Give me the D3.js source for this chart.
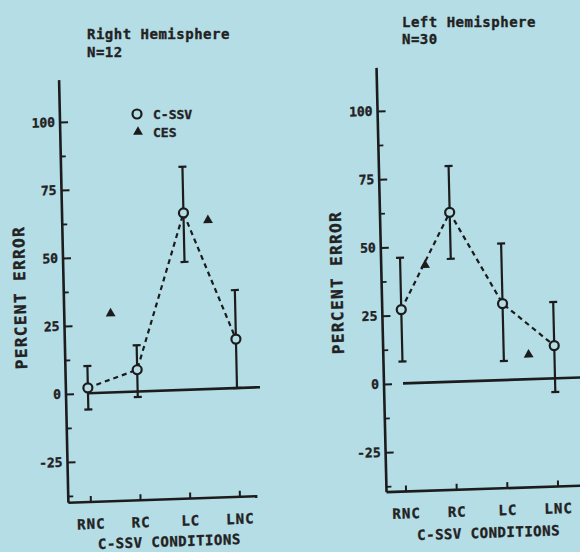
<!DOCTYPE html>
<html><head><meta charset="utf-8">
<script src="https://cdn.jsdelivr.net/npm/d3@7"></script>
<style>
html,body{margin:0;padding:0;background:#b5dde6;}
svg{display:block;}
text{font-family:"DejaVu Sans Mono",monospace;font-weight:bold;fill:#222;stroke:#222;stroke-width:0.35px;}
</style></head><body>
<svg id="chart" width="580" height="552"></svg>
<script>
// ---- data ----
const categories = ["RNC", "RC", "LC", "LNC"];
const yTickValues = [-25, 0, 25, 50, 75, 100];
const yTickLabels = ["-25", "0", "25", "50", "75", "100"];
const yMinorTicks = [-37.5, -12.5, 12.5, 37.5, 62.5, 87.5];
const seriesNames = ["C-SSV", "CES"];

const rightHemCSSV     = [2, 8, 65, 18];
const rightHemCSSVLow  = [-6, -2, 47, 0];
const rightHemCSSVHigh = [10, 17, 82, 36];
const rightHemCES      = [29, null, 62, null];

const leftHemCSSV      = [27, 62, 28, 12];
const leftHemCSSVLow   = [8, 45, 7, -5];
const leftHemCSSVHigh  = [46, 79, 50, 28];
const leftHemCES       = [43, null, 9, null];

// ---- layout ----
const BG = "#b5dde6", INK = "#1c1c1c";
const svg = d3.select("#chart");
svg.append("rect").attr("width", 580).attr("height", 552).attr("fill", BG);

const panels = [
  { title: "Right Hemisphere", n: "N=12", tx: 87, ty: 39, ny: 57,
    cssv: rightHemCSSV, lo: rightHemCSSVLow, hi: rightHemCSSVHigh, ces: rightHemCES,
    ax: 66, y0: 394, y100: 122, xr: [88, 237], yTop: 115.4, yBot: -40,
    xEnd: 255, zero: [88, 260], b: -0.035, c: 0.022,
    ylab: [22, 296], xtitle: [166, 550] },
  { title: "Left Hemisphere", n: "N=30", tx: 402, ty: 27, ny: 44,
    cssv: leftHemCSSV, lo: leftHemCSSVLow, hi: leftHemCSSVHigh, ces: leftHemCES,
    ax: 384, y0: 384, y100: 111, xr: [403, 555], yTop: 115.8, yBot: -39.6,
    xEnd: 600, zero: [403, 600], b: -0.033, c: 0.0236,
    ylab: [339, 281], xtitle: [485, 541] }
];

const fmt = d => yTickLabels[yTickValues.indexOf(d)];

panels.forEach(p => {
  const y = d3.scaleLinear().domain([0, 100]).range([p.y0, p.y100]);
  const x = d3.scalePoint().domain(categories).range(p.xr);
  const step = x.step();
  const g = svg.append("g")
    .attr("transform", `translate(${p.ax},${p.y0}) matrix(1,${p.b},${p.c},1,0,0) translate(${-p.ax},${-p.y0})`)
    .style("color", INK);

  const yBase = y(p.yBot);

  // y axis line
  g.append("line").attr("x1", p.ax).attr("x2", p.ax)
    .attr("y1", y(p.yTop)).attr("y2", yBase)
    .attr("stroke", INK).attr("stroke-width", 2.6);
  // major ticks (to the right)
  const maj = g.append("g").attr("transform", `translate(${p.ax},0)`)
    .call(d3.axisRight(y).tickValues(yTickValues).tickSize(8).tickFormat(""));
  maj.select(".domain").remove();
  maj.selectAll("line").attr("stroke-width", 2);
  // minor ticks
  const mnr = g.append("g").attr("transform", `translate(${p.ax},0)`)
    .call(d3.axisRight(y).tickValues(yMinorTicks).tickSize(5).tickFormat(""));
  mnr.select(".domain").remove();
  mnr.selectAll("line").attr("stroke-width", 1.8);
  // tick labels
  const lab = g.append("g").attr("transform", `translate(${p.ax},0)`)
    .call(d3.axisLeft(y).tickValues(yTickValues).tickSize(0).tickPadding(5).tickFormat(fmt));
  lab.select(".domain").remove();
  lab.selectAll("text").style("font-family", '"DejaVu Sans Mono",monospace')
    .style("font-weight", "bold").style("font-size", "13px").attr("fill", "#222");

  // x axis line
  g.append("line").attr("x1", p.ax).attr("x2", p.xEnd)
    .attr("y1", yBase).attr("y2", yBase)
    .attr("stroke", INK).attr("stroke-width", 2.6);
  const xt = g.append("g").attr("transform", `translate(0,${yBase})`)
    .call(d3.axisTop(x).tickSize(6).tickFormat(""));
  xt.select(".domain").remove();
  xt.selectAll("line").attr("stroke-width", 2);
  const xl = g.append("g").attr("transform", `translate(0,${yBase})`)
    .call(d3.axisBottom(x).tickSize(0).tickPadding(17));
  xl.select(".domain").remove();
  xl.selectAll("text").style("font-family", '"DejaVu Sans Mono",monospace')
    .style("font-weight", "bold").style("font-size", "14px")
    .style("letter-spacing", "1px").attr("fill", "#222");

  // zero line
  g.append("line").attr("x1", p.zero[0]).attr("x2", p.zero[1])
    .attr("y1", y(0)).attr("y2", y(0))
    .attr("stroke", INK).attr("stroke-width", 2.6);

  // error bars
  const eb = g.append("g").attr("stroke", INK).attr("stroke-width", 2.2);
  categories.forEach((cat, i) => {
    const cx = x(cat);
    eb.append("line").attr("x1", cx).attr("x2", cx).attr("y1", y(p.lo[i])).attr("y2", y(p.hi[i]));
    [p.lo[i], p.hi[i]].forEach(v => {
      eb.append("line").attr("x1", cx - 4).attr("x2", cx + 4).attr("y1", y(v)).attr("y2", y(v));
    });
  });

  // dashed connecting line
  const line = d3.line().x((d, i) => x(categories[i])).y(d => y(d));
  g.append("path").datum(p.cssv).attr("d", line)
    .attr("fill", "none").attr("stroke", INK).attr("stroke-width", 2.2)
    .attr("stroke-dasharray", "5,4");

  // circles
  g.selectAll("circle.cssv").data(p.cssv).enter().append("circle")
    .attr("class", "cssv")
    .attr("cx", (d, i) => x(categories[i])).attr("cy", d => y(d))
    .attr("r", 4.5).attr("fill", BG).attr("stroke", INK).attr("stroke-width", 2.2);

  // CES triangles
  const tri = d3.symbol().type(d3.symbolTriangle).size(42);
  g.selectAll("path.ces").data(p.ces.map((v, i) => ({ v, i })).filter(d => d.v !== null))
    .enter().append("path").attr("class", "ces")
    .attr("d", tri)
    .attr("transform", d => `translate(${x(categories[d.i]) + step * 0.49},${y(d.v)})`)
    .attr("fill", INK);

  // axis titles
  g.append("text").attr("transform", `translate(${p.ylab[0]},${p.ylab[1]}) rotate(-90)`)
    .attr("text-anchor", "middle").attr("dy", "0.36em")
    .style("font-size", "16px").style("letter-spacing", "1.4px")
    .text("PERCENT ERROR");
  g.append("text").attr("x", p.xtitle[0]).attr("y", p.xtitle[1])
    .attr("text-anchor", "middle")
    .style("font-size", "14px").style("letter-spacing", "0.5px")
    .text("C-SSV CONDITIONS");

  // panel title
  svg.append("text").attr("x", p.tx).attr("y", p.ty)
    .style("font-size", "14px").style("letter-spacing", "0.5px").text(p.title);
  svg.append("text").attr("x", p.tx).attr("y", p.ny)
    .style("font-size", "14px").style("letter-spacing", "0.5px").text(p.n);
});

// legend (left panel)
const lg = svg.append("g");
lg.append("circle").attr("cx", 137).attr("cy", 114).attr("r", 4.5)
  .attr("fill", BG).attr("stroke", INK).attr("stroke-width", 2.2);
lg.append("path").attr("d", d3.symbol().type(d3.symbolTriangle).size(42))
  .attr("transform", "translate(138,132)").attr("fill", INK);
lg.selectAll("text").data(seriesNames).enter().append("text")
  .attr("x", 153).attr("y", (d, i) => 119 + i * 18)
  .style("font-size", "13px").text(d => d);
</script>
</body></html>
